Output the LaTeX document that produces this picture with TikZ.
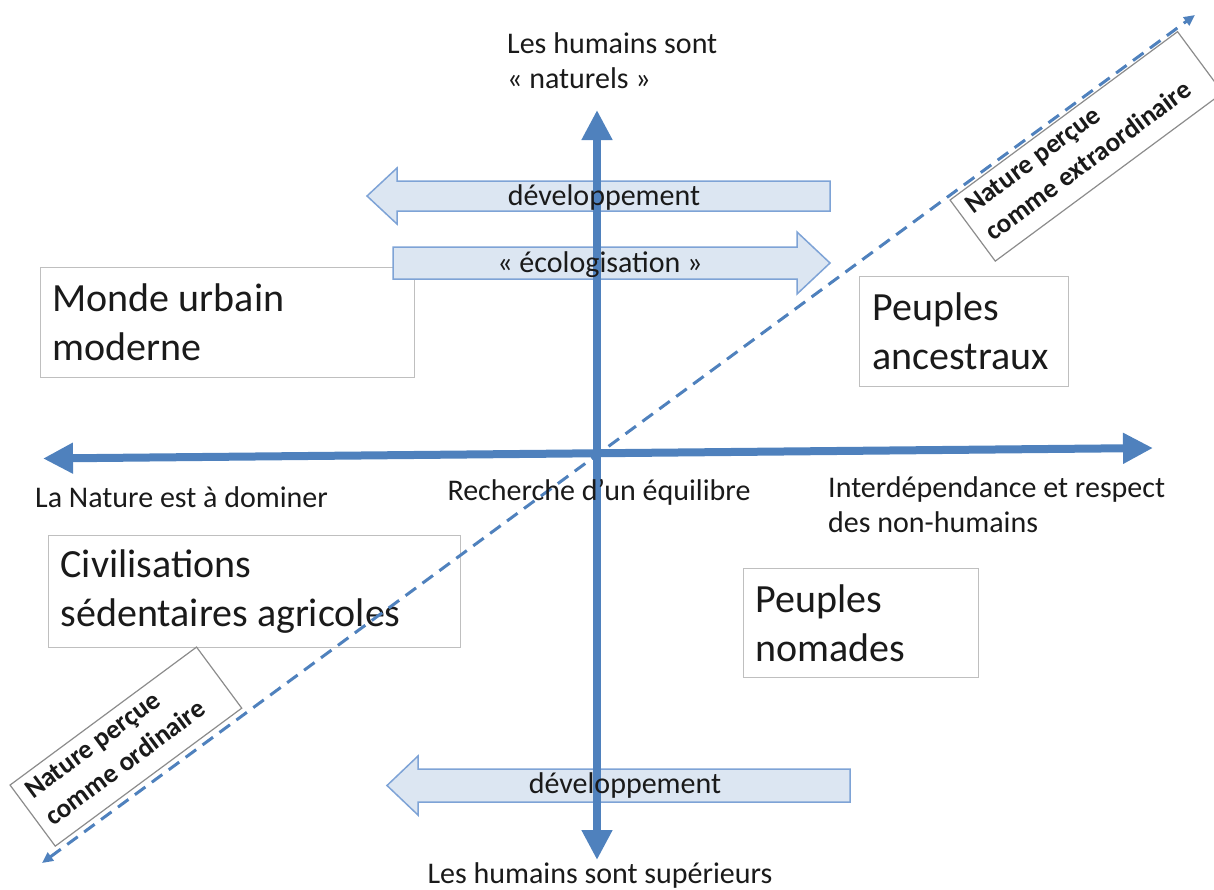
\documentclass[tikz,border=0pt]{standalone}
\usepackage{fontspec}
\setmainfont{Carlito}
\usetikzlibrary{arrows.meta}
\definecolor{axisblue}{HTML}{4F81BD}
\definecolor{arrfill}{HTML}{DCE6F2}
\definecolor{arrdraw}{HTML}{7EA3D6}
\definecolor{boxgray}{HTML}{BFBFBF}
\definecolor{taggray}{HTML}{8C8C8C}
\definecolor{txt}{HTML}{1A1A1A}
\newcommand{\lowpad}{\rule[-9pt]{0pt}{0pt}}
\begin{document}
\begin{tikzpicture}[x=1pt,y=-1pt,
  qbox/.style={draw=boxgray, line width=1.3pt, fill=white, align=flush left, anchor=north west,
    inner xsep=12pt, inner ysep=0pt, text=txt, font=\fontsize{40}{49}\selectfont},
  tagbox/.style={draw=taggray, line width=1.2pt, fill=white, align=flush left, inner xsep=10pt,
    inner ysep=0pt, text=txt, font=\bfseries\fontsize{27}{34}\selectfont},
  axislabel/.style={inner sep=0pt, text=txt, align=left, font=\fontsize{30}{35}\selectfont},
  axis/.style={draw=axisblue, line width=8pt,
    {Triangle[length=30pt,width=29pt]}-{Triangle[length=30pt,width=29pt]}},
  diag/.style={draw=axisblue, line width=3pt, dash pattern=on 13pt off 8pt,
    {Triangle[length=11pt,width=10pt]}-{Triangle[length=11pt,width=10pt]}},
  blockarrow/.style={draw=arrdraw, line width=1.5pt, fill=arrfill, line join=miter},
  arrowtext/.style={inner sep=0pt, text=txt, font=\fontsize{30}{35}\selectfont}
]
\useasboundingbox (0,0) rectangle (1214,889);

% quadrant boxes
\node[qbox, text width=350pt, minimum height=110pt] (urbain) at (40,267) {Monde urbain\\moderne};
\node[qbox, text width=388pt, minimum height=112pt] (civil) at (48,535) {Civilisations\\sédentaires agricoles};
\node[qbox, inner xsep=13pt, text width=183pt, minimum height=110pt] (ancest) at (859,276) {Peuples\\ancestraux};
\node[qbox, text width=211pt, minimum height=109pt] (nomad) at (743,568) {Peuples\\nomades};

% block arrows
\draw[blockarrow] (367,196) -- (397,168) -- (397,181) -- (830,181) -- (830,211)
  -- (397,211) -- (397,224) -- cycle;
\draw[blockarrow] (830,263) -- (797,232) -- (797,247) -- (393,247) -- (393,279)
  -- (797,279) -- (797,294) -- cycle;
\draw[blockarrow] (387,785.5) -- (418,756) -- (418,769) -- (850,769) -- (850,802)
  -- (418,802) -- (418,815) -- cycle;

% axes
\coordinate (L) at (43,458.5);
\coordinate (R) at (1153,448);
\coordinate (T) at (597,110);
\coordinate (B) at (597,860);
\draw[axis] (L) -- (R);
\draw[axis] (B) -- (T);

% block arrow labels
\node[arrowtext, anchor=base] (dev1) at (604,205) {développement};
\node[arrowtext, anchor=base] (eco) at (600,272) {«~écologisation~»};
\node[arrowtext, anchor=base] (dev2) at (625,793) {développement};

% tag boxes
\node[tagbox, rotate=36.5, minimum width=283pt, minimum height=76pt, text width=263pt]
  (extra) at (1086.4,146.4) {Nature perçue\\comme extraordinaire\lowpad};
\node[tagbox, rotate=36.5, minimum width=232pt, minimum height=76pt, text width=212pt]
  (ordin) at (125.9,746.6) {Nature perçue\\comme ordinaire\lowpad};

% diagonal
\coordinate (D1) at (42,863);
\coordinate (D2) at (1195,15);
\draw[diag] (D1) -- (D2);

% axis labels
\node[axislabel, anchor=base west] (top) at (507,88) {Les humains sont\\«~naturels~»};
\node[axislabel, anchor=base] (centre) at (599,500) {Recherche d’un équilibre};
\node[axislabel, anchor=base west] (left) at (35,507) {La Nature est à dominer};
\node[axislabel, anchor=base west] (right) at (828,532) {Interdépendance et respect\\des non-humains};
\node[axislabel, anchor=base] (bottom) at (600,883) {Les humains sont supérieurs};
\end{tikzpicture}
\end{document}
